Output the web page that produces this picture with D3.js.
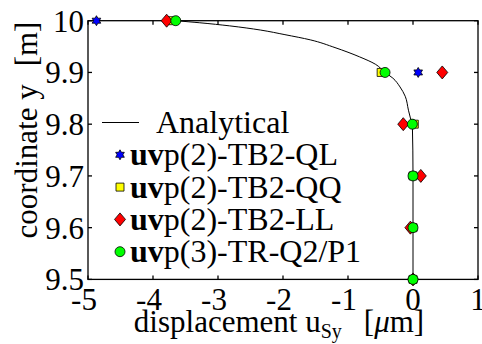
<!DOCTYPE html>
<meta charset="utf-8">
<body style="margin:0">
<script src="https://d3js.org/d3.v7.min.js"></script>
<script>
    // y levels where the numerical solutions are sampled
    var yLevels = [10, 9.9, 9.8, 9.7, 9.6, 9.5];
    var uvpQL = [-4.87, 0.08, 0, 0, 0, 0];
    var uvpQQ = [-3.70, -0.49, 0.02, 0, 0, 0];
    var uvpLL = [-3.79, 0.45, -0.15, 0.12, -0.04, 0];
    var uvpTR = [-3.65, -0.43, -0.01, 0, 0, 0];

    // analytical curve
    var analyticY = [10, 9.996, 9.990, 9.982, 9.973, 9.963, 9.948, 9.930, 9.916, 9.900,
                     9.889, 9.872, 9.854, 9.827, 9.812, 9.800, 9.7, 9.6, 9.5];
    var analyticX = [-3.65, -3.28, -2.82, -2.35, -1.97, -1.58, -1.20, -0.82, -0.58, -0.43,
                     -0.31, -0.20, -0.12, -0.07, -0.04, -0.01, 0, 0, 0];

    var xTicks = [-5, -4, -3, -2, -1, 0, 1];
    var yTicks = [9.5, 9.6, 9.7, 9.8, 9.9, 10];
    var yTickLabels = ["9.5", "9.6", "9.7", "9.8", "9.9", "10"];

    var canvasWidth = 482, canvasHeight = 344;
    var svg = d3.select("body").append("svg")
        .attr("width", canvasWidth)
        .attr("height", canvasHeight);

    var margin = {top: 20.7, right: 4, bottom: 64.6, left: 88};
    var width = canvasWidth - margin.left - margin.right,
        height = canvasHeight - margin.top - margin.bottom;
    var g = svg.append("g").attr("transform", "translate(" + margin.left + "," + margin.top + ")");

    var x = d3.scaleLinear().domain([-5, 1]).range([0, width]);
    var y = d3.scaleLinear().domain([9.5, 10]).range([height, 0]);

    function label(sel, size) {
        return sel.append("text")
            .attr("font-family", "Liberation Serif")
            .attr("font-size", size);
    }

    // frame with inward ticks on all four sides (drawn by hand, no d3 axis)
    g.append("rect")
        .attr("width", width).attr("height", height)
        .attr("fill", "none").attr("stroke", "#000").attr("stroke-width", 1.3);
    xTicks.forEach(function(d) {
        [[height, height - 4], [0, 4]].forEach(function(p) {
            g.append("line").attr("x1", x(d)).attr("x2", x(d))
                .attr("y1", p[0]).attr("y2", p[1])
                .attr("stroke", "#000").attr("stroke-width", 1.3);
        });
    });
    yTicks.forEach(function(d) {
        [[0, 4], [width, width - 4]].forEach(function(p) {
            g.append("line").attr("y1", y(d)).attr("y2", y(d))
                .attr("x1", p[0]).attr("x2", p[1])
                .attr("stroke", "#000").attr("stroke-width", 1.3);
        });
    });

    xTicks.forEach(function(d) {
        label(g, 31)
            .attr("x", x(d) - (d < 0 ? 4 : 0))
            .attr("y", height + 31)
            .attr("text-anchor", "middle")
            .text(d);
    });

    yTicks.forEach(function(d, i) {
        label(g, 31)
            .attr("x", -4)
            .attr("y", y(d) + 11)
            .attr("text-anchor", "end")
            .text(yTickLabels[i]);
    });

    // analytical line
    var line = d3.line()
        .curve(d3.curveMonotoneY)
        .x(function(d) { return x(d[0]); })
        .y(function(d) { return y(d[1]); });
    g.append("path")
        .datum(analyticX.map(function(v, i) { return [v, analyticY[i]]; }))
        .attr("d", line)
        .attr("fill", "none")
        .attr("stroke", "#000")
        .attr("stroke-width", 1);

    function hexagram(R) {
        var pts = [];
        for (var k = 0; k < 12; k++) {
            var a = -Math.PI / 2 + k * Math.PI / 6;
            var r = k % 2 ? R / Math.sqrt(3) : R;
            pts.push([r * Math.cos(a), r * Math.sin(a)]);
        }
        return "M" + pts.join("L") + "Z";
    }
    var markers = {
        star: hexagram(5),
        square: "M-4,-4H4V4H-4Z",
        diamond: "M0,-6.5L5.5,0L0,6.5L-5.5,0Z",
        circle: d3.symbol().type(d3.symbolCircle).size(Math.PI * 25)()
    };

    var series = [
        {name: "QL", values: uvpQL, shape: "star", color: "#0000ff", label: "p(2)-TB2-QL"},
        {name: "QQ", values: uvpQQ, shape: "square", color: "#ffff00", label: "p(2)-TB2-QQ"},
        {name: "LL", values: uvpLL, shape: "diamond", color: "#ff0000", label: "p(2)-TB2-LL"},
        {name: "TR", values: uvpTR, shape: "circle", color: "#00ff00", label: "p(3)-TR-Q2/P1"}
    ];

    series.forEach(function(s) {
        g.selectAll(".m" + s.name).data(s.values).enter().append("path")
            .attr("class", "m" + s.name)
            .attr("transform", function(d, i) { return "translate(" + x(d) + "," + y(yLevels[i]) + ")"; })
            .attr("d", markers[s.shape])
            .attr("fill", s.color)
            .attr("stroke", "#000")
            .attr("stroke-width", 0.8);
    });

    // legend
    var legend = svg.append("g");
    var rowY = [122.5, 154.8, 187.1, 219.4, 251.7];
    legend.append("line")
        .attr("x1", 102).attr("x2", 139)
        .attr("y1", rowY[0]).attr("y2", rowY[0])
        .attr("stroke", "#000").attr("stroke-width", 1);
    label(legend, 32)
        .attr("x", 156).attr("y", rowY[0] + 10.5)
        .text("Analytical");

    series.forEach(function(s, i) {
        var ry = rowY[i + 1];
        legend.append("path")
            .attr("transform", "translate(120," + ry + ")")
            .attr("d", markers[s.shape])
            .attr("fill", s.color)
            .attr("stroke", "#000")
            .attr("stroke-width", 0.8);
        var t = label(legend, 32)
            .attr("x", 130).attr("y", ry + 10.5);
        t.append("tspan").attr("font-weight", "bold").text("uv");
        t.append("tspan").text(s.label);
    });

    // axis titles
    var xt = label(svg, 31)
        .attr("x", 279).attr("y", 332)
        .attr("text-anchor", "middle");
    xt.append("tspan").text("displacement u");
    xt.append("tspan").attr("dy", 6).attr("font-size", 20).text("Sy");
    xt.append("tspan").attr("dy", -6).attr("dx", 22).text("[");
    xt.append("tspan").attr("font-style", "italic").text("\u03bc");
    xt.append("tspan").text("m]");

    var yt = label(svg, 31)
        .attr("transform", "translate(37,130) rotate(-90)")
        .attr("text-anchor", "middle");
    yt.append("tspan").text("coordinate y");
    yt.append("tspan").attr("dx", 18).text("[m]");
</script>
</body>
